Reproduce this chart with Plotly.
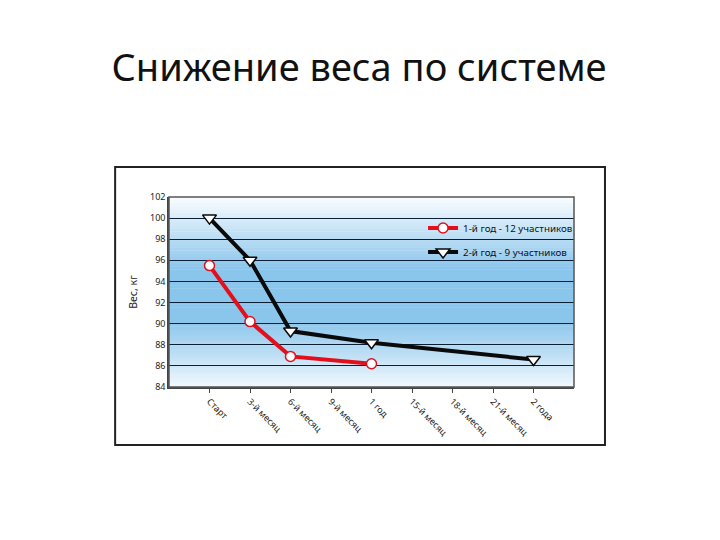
import plotly.graph_objects as go

categories = ["Старт", "3-й месяц", "6-й месяц", "9-й месяц", "1 год",
              "15-й месяц", "18-й месяц", "21-й месяц", "2 года"]
year1_name = "1-й год - 12 участников"
year1_x = ["Старт", "3-й месяц", "6-й месяц", "1 год"]
year1_y = [95.5, 90.2, 86.9, 86.2]
year2_name = "2-й год - 9 участников"
year2_x = ["Старт", "3-й месяц", "6-й месяц", "1 год", "2 года"]
year2_y = [100.0, 96.0, 89.3, 88.2, 86.6]
y_ticks = list(range(84, 103, 2))

fig = go.Figure()

def lerp(c1, c2, t):
    return tuple(int(round(a + (b - a) * t)) for a, b in zip(c1, c2))

top = (250, 253, 255)
mid = (138, 197, 236)
bot = (240, 248, 253)
n = 60
shapes = []
for i in range(n):
    f0 = i / n
    f1 = (i + 1) / n
    c = (f0 + f1) / 2
    if c > 0.62:
        col = lerp(mid, top, (c - 0.62) / 0.38)
    elif c > 0.35:
        col = mid
    else:
        col = lerp(bot, mid, c / 0.35)
    shapes.append(dict(type="rect", xref="x domain", yref="y domain",
                       x0=0, x1=1, y0=f0, y1=f1 + 0.002, layer="below",
                       line=dict(width=0), fillcolor="rgb(%d,%d,%d)" % col))

shapes.append(dict(type="rect", xref="paper", yref="paper",
                   x0=-0.133, x1=1.0765, y0=-0.305, y1=1.158,
                   line=dict(color="#222222", width=2), fillcolor="rgba(0,0,0,0)",
                   layer="below"))
shapes.append(dict(type="rect", xref="x domain", yref="y domain",
                   x0=0, x1=1, y0=0, y1=1,
                   line=dict(color="#555555", width=1.5), fillcolor="rgba(0,0,0,0)"))

fig.add_trace(go.Scatter(
    x=year1_x, y=year1_y, name=year1_name, mode="lines+markers", legendgroup="a",
    line=dict(color="#e3101b", width=4),
    marker=dict(symbol="circle", size=10, color="white",
                line=dict(color="#e3101b", width=1.5)),
))
fig.add_trace(go.Scatter(
    x=year2_x, y=year2_y, name=year2_name, mode="lines+markers", legendgroup="b",
    line=dict(color="#0a0a0a", width=4),
    marker=dict(symbol="triangle-down", size=12, color="white",
                line=dict(color="#0a0a0a", width=1.5)),
))

fig.update_layout(
    width=720, height=540,
    margin=dict(l=161, r=154, t=189, b=161),
    paper_bgcolor="white", plot_bgcolor="rgba(0,0,0,0)",
    shapes=shapes,
    title=dict(text="Снижение веса по системе", x=0.4875, xref="container",
               y=1 - 60 / 540, yref="container", yanchor="middle", xanchor="center",
               font=dict(family="Noto Sans", size=38, color="#111111")),
    showlegend=True,
    legend=dict(x=1.01, xanchor="right", y=0.913, yanchor="top",
                bgcolor="rgba(0,0,0,0)", font=dict(family="Noto Sans", size=9.8, color="#111"),
                traceorder="grouped", tracegroupgap=5, itemwidth=30),
    font=dict(family="Noto Sans", color="#222"),
)
fig.update_xaxes(
    type="category", categoryorder="array", categoryarray=categories,
    range=[-1, 9], tickvals=categories, ticktext=categories,
    tickangle=45, tickfont=dict(size=9, color="#222"),
    showgrid=False, showline=True, linecolor="#444", linewidth=1.5,
    ticks="outside", ticklen=4, tickcolor="#444", zeroline=False,
)
fig.update_yaxes(
    range=[84, 102], tickvals=y_ticks, tickfont=dict(size=9, color="#222"),
    showgrid=True, gridcolor="#0b1e33", gridwidth=1.2,
    showline=True, linecolor="#444", linewidth=1.5, zeroline=False, ticks="",
    title=dict(text="Вес, кг", font=dict(size=10.5, color="#222"), standoff=10),
)

fig.write_html("out.html")
